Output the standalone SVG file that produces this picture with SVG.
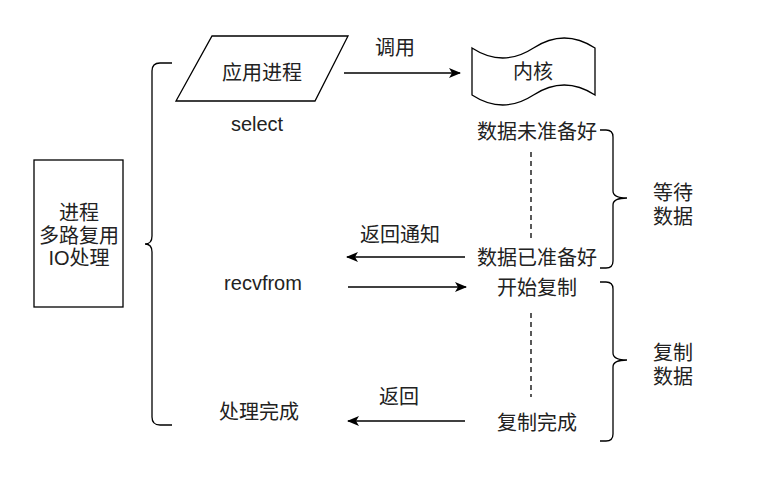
<svg xmlns="http://www.w3.org/2000/svg" width="762" height="483" viewBox="0 0 762 483">
<defs>
<style>
.s{fill:#fff;stroke:#000;stroke-width:1.3}
.l{fill:none;stroke:#000;stroke-width:1.3}
.d{fill:none;stroke:#000;stroke-width:1.3;stroke-dasharray:5 4}
text{font-family:"Liberation Sans","Noto Sans CJK SC",sans-serif;font-size:20px;fill:#222;text-anchor:middle;dominant-baseline:central}
</style>
<marker id="a" viewBox="0 0 12 10" refX="11" refY="5" markerWidth="12" markerHeight="10" markerUnits="userSpaceOnUse" orient="auto">
<path d="M0,0 L12,5 L0,10 L3,5 Z" fill="#000"/>
</marker>
</defs>
<rect width="762" height="483" fill="#fff"/>
<g id="proc-box"><rect class="s" x="34" y="160" width="89" height="147"/>
<text x="79" y="213">进程</text><text x="79" y="236">多路复用</text><text x="79" y="258">IO处理</text></g>
<g id="app"><path class="s" d="M212,36 L348,36 L315,101 L176,101 Z"/><text x="262" y="73">应用进程</text></g>
<g id="kernel"><path class="s" d="M472,48 Q502.75,68 533.5,48 Q564.25,28 595,48 L595,95 Q564.25,75 533.5,95 Q502.75,115 472,95 Z"/><text x="533" y="72">内核</text></g>
<g id="braces">
<path class="l" d="M172,63 L160,63 Q152,63 152,71 L152,236 Q152,244 145,244 Q152,244 152,252 L152,417 Q152,425 160,425 L172,425"/>
<path class="l" d="M600,130 L606,130 Q613,130 613,137 L613,191 Q613,198 627,198 Q613,198 613,205 L613,261 Q613,268 606,268 L600,268"/>
<path class="l" d="M600,282 L606,282 Q613,282 613,289 L613,353 Q613,360 627,360 Q613,360 613,367 L613,434 Q613,441 606,441 L600,441"/>
</g>
<g id="labels">
<text x="257" y="124">select</text>
<text x="263" y="283">recvfrom</text>
<text x="259" y="412">处理完成</text>
<text x="537" y="132">数据未准备好</text>
<text x="537" y="258">数据已准备好</text>
<text x="537" y="288">开始复制</text>
<text x="537" y="423">复制完成</text>
<text x="673" y="193">等待</text><text x="673" y="217">数据</text>
<text x="673" y="353">复制</text><text x="673" y="377">数据</text>
<text x="395" y="48">调用</text>
<text x="400" y="235">返回通知</text>
<text x="399" y="397">返回</text>
</g>
<g id="connectors">
<line class="l" x1="344" y1="73" x2="460" y2="73" marker-end="url(#a)"/>
<line class="l" x1="465" y1="257" x2="347" y2="257" marker-end="url(#a)"/>
<line class="l" x1="348" y1="287" x2="466" y2="287" marker-end="url(#a)"/>
<line class="l" x1="465" y1="421" x2="348" y2="421" marker-end="url(#a)"/>
<line class="d" x1="531" y1="152" x2="531" y2="242"/>
<line class="d" x1="531" y1="313" x2="531" y2="397"/>
</g>
</svg>
